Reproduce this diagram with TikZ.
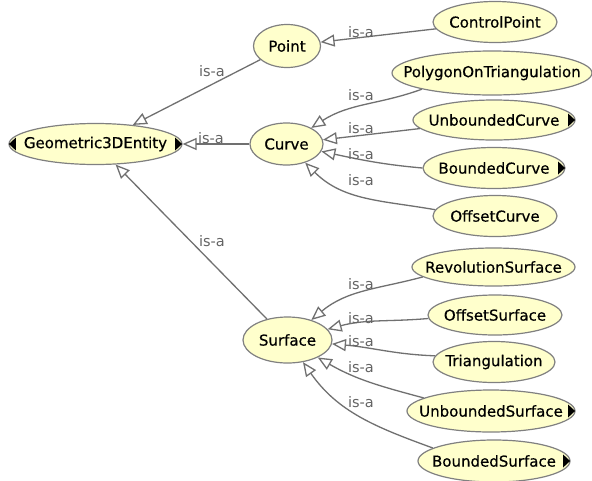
\documentclass[tikz,border=0pt]{standalone}
\usepackage{fontspec}
\setmainfont{DejaVu Sans}
\newfontfamily\clsfont[FakeBold=0.5]{DejaVu Sans}
\usetikzlibrary{arrows.meta, shapes.geometric}
\definecolor{clsfill}{RGB}{255, 255, 204}
\definecolor{clsline}{RGB}{128, 128, 128}
\definecolor{edgegray}{RGB}{112, 112, 112}
\definecolor{lblgray}{RGB}{100, 100, 100}
\newcommand{\expandR}[1]{\fill (#1.east) ++(-0.5,0) -- ++(-7,6.5) -- ++(0,-13) -- cycle;}
\newcommand{\expandL}[1]{\fill (#1.west) ++(0.5,0) -- ++(7,6.5) -- ++(0,-13) -- cycle;}

\begin{document}
\begin{tikzpicture}[
    x = 1pt, y = 1pt,
    cls/.style = {ellipse, draw = clsline, fill = clsfill, line width = 1.2pt, inner sep = 0pt,
        minimum width = #1, minimum height = 41pt, font = \clsfont\fontsize{15pt}{18pt}\selectfont,
        execute at begin node = {\hbox to 0pt\bgroup\hss}, execute at end node = {\hss\egroup}},
    isa/.style = {draw = edgegray, line width = 1.3pt, -{Triangle[open, length = 14pt, width = 12pt, fill = white]}},
    lbl/.style = {text = lblgray, font = \fontsize{14.5pt}{17pt}\selectfont, inner sep = 0pt}
]
\useasboundingbox[fill = white] (0,0) rectangle (592,-480);

% classes
\node[cls = 173pt] (geo) at (95.5,-144) {Geometric3DEntity};
\node[cls = 67pt, minimum height = 43pt] (point) at (287,-46) {Point};
\node[cls = 73pt, minimum height = 42pt] (curve) at (286.5,-144) {Curve};
\node[cls = 89pt, minimum height = 46pt] (surf) at (287.5,-340) {Surface};

\node[cls = 124pt] (cp) at (495,-22) {ControlPoint};
\node[cls = 200pt, minimum height = 44pt] (poly) at (492,-73) {PolygonOnTriangulation};
\node[cls = 162pt, minimum height = 40pt] (ucurve) at (494,-120) {UnboundedCurve};
\node[cls = 142pt] (bcurve) at (494,-168) {BoundedCurve};
\node[cls = 124pt] (ocurve) at (495,-216) {OffsetCurve};

\node[cls = 163pt, minimum height = 38pt] (rsurf) at (493.5,-267) {RevolutionSurface};
\node[cls = 134pt, minimum height = 40pt] (osurf) at (495,-315) {OffsetSurface};
\node[cls = 122pt] (tri) at (494,-362) {Triangulation};
\node[cls = 168pt, minimum height = 42pt] (usurf) at (491,-411) {UnboundedSurface};
\node[cls = 152pt, minimum height = 42pt] (bsurf) at (494,-461) {BoundedSurface};

\expandL{geo}
\expandR{geo}
\expandR{ucurve}
\expandR{bcurve}
\expandR{usurf}
\expandR{bsurf}

% is-a edges
\draw[isa] (point) -- (geo);
\draw[isa] (curve) -- (geo);
\draw[isa] (surf) -- (geo);

\draw[isa] (cp) -- (point);
\draw[isa] (poly.193) to[out = 200, in = 33] (curve);
\draw[isa] (ucurve) -- (curve);
\draw[isa] (bcurve.west) to[out = 175, in = -12] (curve);
\draw[isa] (ocurve.174) to[out = 170, in = -45] (curve);

\draw[isa] (rsurf.188) to[out = 195, in = 40] (surf);
\draw[isa] (osurf.183) to[out = 185, in = 15] (surf);
\draw[isa] (tri.174) to[out = 178, in = -5] (surf);
\draw[isa] (usurf.169) to[out = 165, in = -30] (surf);
\draw[isa] (bsurf.168) to[out = 160, in = -55] (surf);

% labels
\node[lbl] (l1) at (212,-71) {is-a};
\node[lbl] (l2) at (211,-138) {is-a};
\node[lbl] (l3) at (212,-241) {is-a};
\node[lbl] (l4) at (361,-32) {is-a};
\node[lbl] (l5) at (361,-95) {is-a};
\node[lbl] (l6) at (361,-128) {is-a};
\node[lbl] (l7) at (361,-154) {is-a};
\node[lbl] (l8) at (361,-180) {is-a};
\node[lbl] (l9) at (361,-284) {is-a};
\node[lbl] (l10) at (361,-318) {is-a};
\node[lbl] (l11) at (361,-341) {is-a};
\node[lbl] (l12) at (361,-367) {is-a};
\node[lbl] (l13) at (361,-402) {is-a};

\end{tikzpicture}
\end{document}
